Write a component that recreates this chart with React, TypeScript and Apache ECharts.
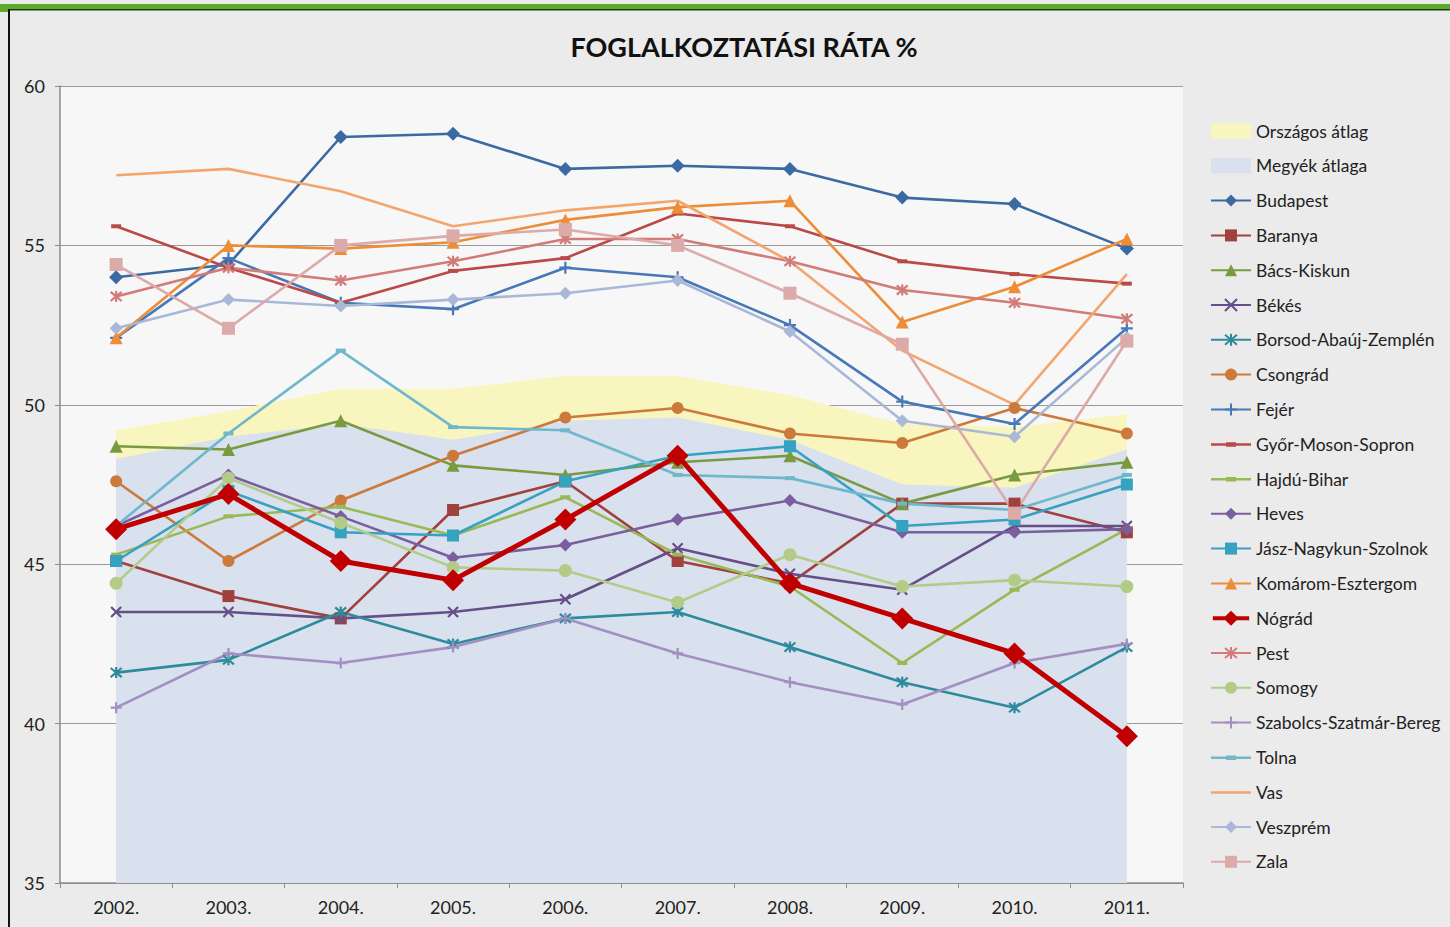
import React, { useEffect, useRef } from "react";
import * as echarts from "echarts";

const years = ["2002.", "2003.", "2004.", "2005.", "2006.", "2007.", "2008.", "2009.", "2010.", "2011."];

const orszagos = [49.2, 49.8, 50.5, 50.5, 50.9, 50.9, 50.3, 49.4, 49.3, 49.7];
const megyek = [48.3, 49.0, 49.4, 48.9, 49.5, 49.6, 48.9, 47.5, 47.4, 48.6];

const budapest = [54.0, 54.4, 58.4, 58.5, 57.4, 57.5, 57.4, 56.5, 56.3, 54.9];
const baranya = [45.1, 44.0, 43.3, 46.7, 47.6, 45.1, 44.4, 46.9, 46.9, 46.0];
const bacsKiskun = [48.7, 48.6, 49.5, 48.1, 47.8, 48.2, 48.4, 46.9, 47.8, 48.2];
const bekes = [43.5, 43.5, 43.3, 43.5, 43.9, 45.5, 44.7, 44.2, 46.2, 46.2];
const borsod = [41.6, 42.0, 43.5, 42.5, 43.3, 43.5, 42.4, 41.3, 40.5, 42.4];
const csongrad = [47.6, 45.1, 47.0, 48.4, 49.6, 49.9, 49.1, 48.8, 49.9, 49.1];
const fejer = [52.1, 54.6, 53.2, 53.0, 54.3, 54.0, 52.5, 50.1, 49.4, 52.4];
const gyor = [55.6, 54.3, 53.2, 54.2, 54.6, 56.0, 55.6, 54.5, 54.1, 53.8];
const hajdu = [45.3, 46.5, 46.8, 45.9, 47.1, 45.3, 44.3, 41.9, 44.2, 46.1];
const heves = [46.2, 47.8, 46.5, 45.2, 45.6, 46.4, 47.0, 46.0, 46.0, 46.1];
const jasz = [45.1, 47.3, 46.0, 45.9, 47.6, 48.4, 48.7, 46.2, 46.4, 47.5];
const komarom = [52.1, 55.0, 54.9, 55.1, 55.8, 56.2, 56.4, 52.6, 53.7, 55.2];
const nograd = [46.1, 47.2, 45.1, 44.5, 46.4, 48.4, 44.4, 43.3, 42.2, 39.6];
const pest = [53.4, 54.3, 53.9, 54.5, 55.2, 55.2, 54.5, 53.6, 53.2, 52.7];
const somogy = [44.4, 47.7, 46.3, 44.9, 44.8, 43.8, 45.3, 44.3, 44.5, 44.3];
const szabolcs = [40.5, 42.2, 41.9, 42.4, 43.3, 42.2, 41.3, 40.6, 41.9, 42.5];
const tolna = [46.2, 49.1, 51.7, 49.3, 49.2, 47.8, 47.7, 46.9, 46.7, 47.8];
const vas = [57.2, 57.4, 56.7, 55.6, 56.1, 56.4, 54.5, 51.7, 50.0, 54.1];
const veszprem = [52.4, 53.3, 53.1, 53.3, 53.5, 53.9, 52.3, 49.5, 49.0, 52.1];
const zala = [54.4, 52.4, 55.0, 55.3, 55.5, 55.0, 53.5, 51.9, 46.6, 52.0];

const yTicks = [35, 40, 45, 50, 55, 60];

const X_SYM = "path://M0,0 L10,10 M10,0 L0,10";
const STAR_SYM = "path://M0,0 L10,10 M10,0 L0,10 M5,-1 L5,11";
const PLUS_SYM = "path://M5,0 L5,10 M0,5 L10,5";
const DASH_SYM = "path://M0,0 L10,0 L10,4 L0,4 Z";
const BBOX = " M0,0 L0.01,0 L0.01,0.01 Z M39.99,15 L40,15 L40,14.99 Z";
const LINE_ICON = "path://M0,6.5 L40,6.5 L40,9 L0,9 Z" + BBOX;
const DASH_ICON = "path://M0,6.5 L40,6.5 L40,9 L0,9 Z M15,5.5 L25,5.5 L25,10 L15,10 Z" + BBOX;
const NOGRAD_ICON = "path://M0,5.5 L40,5.5 L40,10 L0,10 Z M20,-0.5 L28.5,7.75 L20,16 L11.5,7.75 Z" + BBOX;

const FONT = "Lato, 'Open Sans', sans-serif";

type Def = { name: string; data: number[]; color: string; symbol: string; size: any; stroke?: boolean; width?: number; icon?: string };

const defs: Def[] = [
  { name: "Budapest", data: budapest, color: "#3b6aa3", symbol: "diamond", size: 14 },
  { name: "Baranya", data: baranya, color: "#a0413e", symbol: "rect", size: 12 },
  { name: "Bács-Kiskun", data: bacsKiskun, color: "#7a9a40", symbol: "triangle", size: 13 },
  { name: "Békés", data: bekes, color: "#654f88", symbol: X_SYM, size: 10, stroke: true },
  { name: "Borsod-Abaúj-Zemplén", data: borsod, color: "#2e8b9c", symbol: STAR_SYM, size: 11, stroke: true },
  { name: "Csongrád", data: csongrad, color: "#cc7a3c", symbol: "circle", size: 12 },
  { name: "Fejér", data: fejer, color: "#4878b8", symbol: PLUS_SYM, size: 12, stroke: true },
  { name: "Győr-Moson-Sopron", data: gyor, color: "#b94a47", symbol: DASH_SYM, size: [10, 4], icon: DASH_ICON },
  { name: "Hajdú-Bihar", data: hajdu, color: "#98b954", symbol: DASH_SYM, size: [10, 4], icon: DASH_ICON },
  { name: "Heves", data: heves, color: "#7b5e9e", symbol: "diamond", size: 13 },
  { name: "Jász-Nagykun-Szolnok", data: jasz, color: "#36a2c0", symbol: "rect", size: 12 },
  { name: "Komárom-Esztergom", data: komarom, color: "#ed8d37", symbol: "triangle", size: 13 },
  { name: "Nógrád", data: nograd, color: "#c00000", symbol: "diamond", size: 22, width: 5, icon: NOGRAD_ICON },
  { name: "Pest", data: pest, color: "#d27b79", symbol: STAR_SYM, size: 11, stroke: true },
  { name: "Somogy", data: somogy, color: "#b2cc87", symbol: "circle", size: 13 },
  { name: "Szabolcs-Szatmár-Bereg", data: szabolcs, color: "#a38fc2", symbol: PLUS_SYM, size: 11, stroke: true },
  { name: "Tolna", data: tolna, color: "#6fb7cc", symbol: DASH_SYM, size: [10, 4], icon: DASH_ICON },
  { name: "Vas", data: vas, color: "#f4a56e", symbol: "none", size: 0, icon: LINE_ICON },
  { name: "Veszprém", data: veszprem, color: "#aab8d8", symbol: "diamond", size: 13 },
  { name: "Zala", data: zala, color: "#dcaaa8", symbol: "rect", size: 13 },
];

export default function App() {
  const ref = useRef<HTMLDivElement>(null);
  useEffect(() => {
    if (!ref.current) return;
    const chart = echarts.init(ref.current, undefined, { renderer: "svg" });
    const lineSeries = defs.map((d) => ({
      name: d.name,
      type: "line",
      data: d.data,
      symbol: d.symbol,
      symbolSize: d.size,
      showSymbol: d.symbol !== "none",
      z: d.name === "Nógrád" ? 5 : 3,
      lineStyle: { color: d.color, width: d.width || 2.6 },
      itemStyle: d.stroke
        ? { color: d.color, borderColor: d.color, borderWidth: 2.2 }
        : { color: d.color },
      emphasis: { disabled: true },
    }));
    const option: any = {
      animation: false,
      backgroundColor: "#ebebeb",
      title: {
        text: "FOGLALKOZTATÁSI RÁTA %",
        left: 739,
        top: 28,
        textAlign: "center",
        textStyle: { fontFamily: FONT, fontSize: 27, fontWeight: "bold", color: "#111" },
      },
      graphic: [
        { type: "rect", shape: { x: 0, y: 4, width: 1450, height: 5 }, style: { fill: "#5ea82e" }, z: 10 },
        { type: "rect", shape: { x: 0, y: 9, width: 1450, height: 1.5 }, style: { fill: "#1a3a10" }, z: 10 },
        { type: "rect", shape: { x: 0, y: 4, width: 8, height: 8 }, style: { fill: "#5ea82e" }, z: 10 },
        { type: "rect", shape: { x: 8, y: 9, width: 2, height: 918 }, style: { fill: "#111" }, z: 10 },
      ],
      grid: {
        left: 60,
        right: 267,
        top: 86,
        bottom: 44,
        show: true,
        backgroundColor: "#f7f7f7",
        borderWidth: 0,
      },
      legend: {
        orient: "vertical",
        left: 1205,
        top: 116,
        padding: 5,
        itemWidth: 40,
        itemHeight: 15,
        itemGap: 14.8,
        textStyle: { fontFamily: FONT, fontSize: 17.5, color: "#222", lineHeight: 20 },
        data: [
          { name: "Országos átlag", icon: "rect", itemStyle: { color: "#f9f5bf" } },
          { name: "Megyék átlaga", icon: "rect", itemStyle: { color: "#d9e0ee" } },
          ...defs.map((d) =>
            d.icon
              ? { name: d.name, icon: d.icon, itemStyle: { color: d.color, borderWidth: 0 } }
              : { name: d.name }
          ),
        ],
      },
      xAxis: {
        type: "category",
        data: years,
        boundaryGap: true,
        axisLine: { lineStyle: { color: "#8c8c8c", width: 1.5 } },
        axisTick: { show: true, length: 5, lineStyle: { color: "#8c8c8c" } },
        axisLabel: { fontFamily: FONT, fontSize: 18, color: "#222", margin: 15 },
        splitLine: { show: false },
      },
      yAxis: {
        type: "value",
        min: 35,
        max: 60,
        interval: 5,
        axisLine: { show: true, lineStyle: { color: "#8c8c8c", width: 1.5 } },
        axisTick: { show: true, length: 5, lineStyle: { color: "#8c8c8c" } },
        axisLabel: {
          fontFamily: FONT,
          fontSize: 18,
          color: "#222",
          margin: 15,
          formatter: (v: number) => (yTicks.includes(v) ? String(v) : ""),
        },
        splitLine: { show: true, lineStyle: { color: "#9a9a9a", width: 1 } },
      },
      series: [
        {
          name: "Országos átlag",
          type: "line",
          data: orszagos,
          symbol: "none",
          lineStyle: { width: 0 },
          itemStyle: { color: "#f9f5bf" },
          areaStyle: { color: "#f9f5bf", opacity: 1, origin: "start" },
          z: 1,
          emphasis: { disabled: true },
        },
        {
          name: "Megyék átlaga",
          type: "line",
          data: megyek,
          symbol: "none",
          lineStyle: { width: 0 },
          itemStyle: { color: "#d9e0ee" },
          areaStyle: { color: "#d9e0ee", opacity: 1, origin: "start" },
          z: 2,
          emphasis: { disabled: true },
        },
        ...lineSeries,
      ],
    };
    chart.setOption(option);
    return () => chart.dispose();
  }, []);
  return (
    <div
      ref={ref}
      style={{ position: "fixed", left: 0, top: 0, width: 1450, height: 927 }}
    />
  );
}
